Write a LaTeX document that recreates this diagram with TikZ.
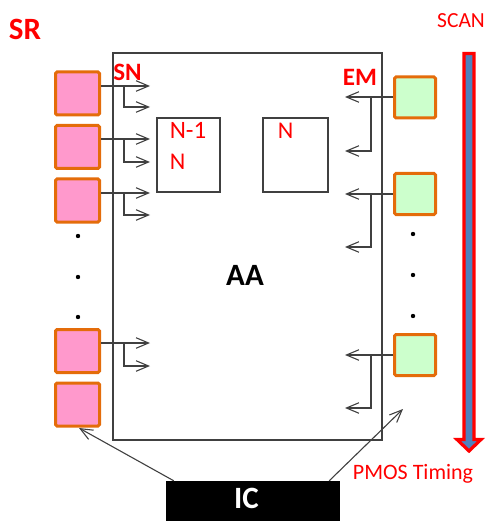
\documentclass[tikz,border=0pt]{standalone}
\usepackage{fontspec}
\setmainfont{Carlito}
\usetikzlibrary{arrows.meta}
\definecolor{txtred}{HTML}{FF0000}
\definecolor{pinkfill}{HTML}{FF99CC}
\definecolor{greenfill}{HTML}{CCFFCC}
\definecolor{boxorange}{HTML}{E46C0A}
\definecolor{scanblue}{HTML}{4F81BD}
\definecolor{linegray}{HTML}{404040}
\begin{document}
\begin{tikzpicture}[x=1pt,y=-1pt,
  pinkbox/.style={draw=boxorange,fill=pinkfill,line width=3pt,rounded corners=1.5pt,minimum width=44pt,minimum height=43pt,inner sep=0pt},
  greenbox/.style={draw=boxorange,fill=greenfill,line width=3pt,rounded corners=1.5pt,minimum width=41pt,minimum height=41pt,inner sep=0pt},
  conn/.style={draw=linegray,line width=1.1pt},
  arr/.style={conn,-{Straight Barb[length=12.5pt,width=10.5pt,line width=1.1pt]}},
  redlbl/.style={text=txtred,inner sep=0pt,anchor=base},
  dotmark/.style={fill=black,circle,inner sep=0pt,minimum size=4.4pt},
  plainbox/.style={draw=linegray,line width=1.1pt,inner sep=0pt}]
\useasboundingbox (0,0) rectangle (487,521);

% active area
\node[plainbox,line width=1.2pt,minimum width=269pt,minimum height=387pt] (aa) at (247.5,246.5) {};
\node[inner sep=0pt,anchor=base,font=\fontsize{31}{31}\selectfont\bfseries] (aalbl) at (245,285) {AA};

% inner pixel boxes
\node[plainbox,minimum width=63pt,minimum height=74pt] (nm1) at (188.5,155) {};
\node[plainbox,minimum width=65pt,minimum height=74pt] (nbox) at (295.5,155) {};
\node[redlbl,font=\fontsize{25}{25}\selectfont] (nm1lbl) at (188,139) {N-1};
\node[redlbl,font=\fontsize{24}{24}\selectfont] (nlbl) at (177.5,170) {N};
\node[redlbl,font=\fontsize{24}{24}\selectfont] (nrlbl) at (285.5,139) {N};

% labels
\node[redlbl,font=\fontsize{31}{31}\selectfont\bfseries] (sr) at (25,40) {SR};
\node[redlbl,font=\fontsize{25}{25}\selectfont\bfseries] (sn) at (127.5,81) {SN};
\node[redlbl,font=\fontsize{25}{25}\selectfont\bfseries] (em) at (360,86) {EM};
\node[redlbl,font=\fontsize{21.5}{21.5}\selectfont] (scan) at (461,28) {SCAN};
\node[redlbl,font=\fontsize{22}{22}\selectfont] (pmos) at (413,479) {PMOS Timing};

% SR boxes
\node[pinkbox] (p1) at (77.5,93.5) {};
\node[pinkbox] (p2) at (77.5,147) {};
\node[pinkbox] (p3) at (77.5,200.5) {};
\node[pinkbox] (p4) at (77.5,351) {};
\node[pinkbox] (p5) at (77.5,404.5) {};

% EM boxes
\node[greenbox] (g1) at (415,97.5) {};
\node[greenbox] (g2) at (415,194) {};
\node[greenbox] (g3) at (415,355) {};

% dots
\foreach \i/\y in {1/236,2/277,3/317} {
  \node[dotmark] (ld\i) at (78,\y) {};
}
\foreach \i/\y in {1/234,2/275,3/316} {
  \node[dotmark] (rd\i) at (413,\y) {};
}

% SR output arrows
\foreach \i/\ya/\yb in {1/86/107,2/139/162,3/193/215,4/343/366} {
  \coordinate (pb\i) at (124,\ya);
  \coordinate (pt\i) at (150,\ya);
  \coordinate (pu\i) at (150,\yb);
  \draw[arr] (p\i.east |- pt\i) -- (pt\i);
  \draw[arr] (pb\i) |- (pu\i);
}

% EM output arrows
\foreach \i/\ya/\yb in {1/97/151,2/194/247,3/355/408} {
  \coordinate (gb\i) at (371,\ya);
  \coordinate (gt\i) at (345,\ya);
  \coordinate (gu\i) at (345,\yb);
  \draw[arr] (g\i.west |- gt\i) -- (gt\i);
  \draw[arr] (gb\i) |- (gu\i);
}

% scan arrow
\draw[draw=txtred,fill=scanblue,line width=3.2pt,line join=miter]
  (464,53.6) -- (474,53.6) -- (474,439.5) -- (481,439.5) -- (469,451) -- (457,439.5) -- (464,439.5) -- cycle;

% IC
\node[fill=black,minimum width=174pt,minimum height=44pt,inner sep=0pt] (ic) at (253,503) {};
\node[inner sep=0pt,anchor=base,text=white,font=\fontsize{31}{31}\selectfont\bfseries] (iclbl) at (246.5,508) {IC};
\coordinate (tipl) at (79,428);
\coordinate (tipr) at (403,409);
\draw[arr] ([xshift=8pt]ic.north west) -- (tipl);
\draw[arr] ([xshift=-11pt]ic.north east) -- (tipr);
\end{tikzpicture}
\end{document}
